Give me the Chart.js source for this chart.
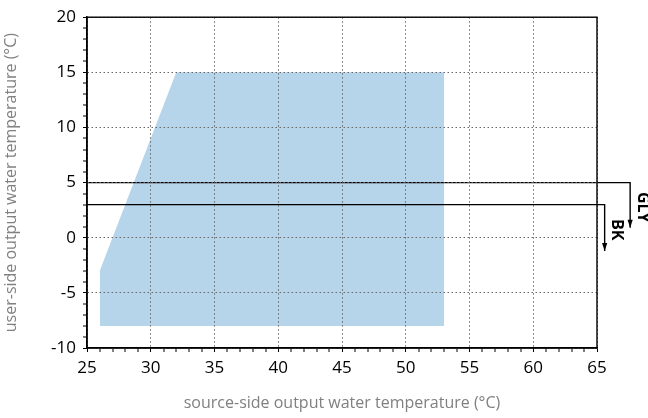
<!DOCTYPE html>
<html>
<head>
<meta charset="utf-8">
<script src="https://cdn.jsdelivr.net/npm/chart.js@4.4.0/dist/chart.umd.min.js"></script>
<style>
  html, body { margin: 0; padding: 0; background: #fff; }
</style>
</head>
<body>
<canvas id="chart" width="648" height="418"></canvas>
<script>
// axis ranges
const xRange = [25, 65];
const yRange = [-10, 20];
const majorStep = 5;

// operating envelope (upper boundary, filled down to the floor)
const envelopeX = [26, 32, 53];
const envelopeY = [-3, 15, 15];
const envelopeFloor = -8;

// limit lines, listed from the arrow tip back to the y axis
const glyX = [67.6, 67.6, 25];
const glyY = [0.9, 5, 5];
const bkX = [65.6, 65.6, 25];
const bkY = [-1.2, 3, 3];
const lineLabels = ["GLY", "BK"];

const toPoints = (xs, ys) => xs.map((x, i) => ({ x, y: ys[i] }));

const boxPlugin = {
  id: "box",
  afterDraw(chart) {
    const { ctx, chartArea: a } = chart;
    ctx.save();
    ctx.strokeStyle = "#000";
    ctx.lineWidth = 1.4;
    ctx.strokeRect(a.left, a.top, a.right - a.left, a.bottom - a.top);
    ctx.restore();
  },
};

const arrowPlugin = {
  id: "arrows",
  afterDatasetsDraw(chart) {
    const ctx = chart.ctx;
    chart.data.datasets.forEach((ds, i) => {
      if (!ds.arrowLabel) return;
      const pts = chart.getDatasetMeta(i).data;
      const tip = pts[0];
      const corner = pts[1];
      ctx.save();
      ctx.fillStyle = "#000";
      ctx.beginPath();
      ctx.moveTo(tip.x, tip.y);
      ctx.lineTo(tip.x - 2.6, tip.y - 8);
      ctx.lineTo(tip.x + 2.6, tip.y - 8);
      ctx.closePath();
      ctx.fill();
      ctx.translate(corner.x + 12, (corner.y + tip.y) / 2 + 2);
      ctx.rotate(Math.PI / 2);
      ctx.font = "bold 16px 'Open Sans'";
      ctx.textAlign = "center";
      ctx.textBaseline = "middle";
      ctx.fillText(ds.arrowLabel, 0, 0);
      ctx.restore();
    });
  },
};

const gridDef = {
  z: 1,
  color: "#666",
  lineWidth: (c) => (c.tick && c.tick.value % majorStep === 0 ? 1 : 0),
  tickWidth: 1,
  tickColor: "#000",
  tickLength: 4,
};

new Chart(document.getElementById("chart"), {
  type: "scatter",
  data: {
    datasets: [
      {
        label: "envelope",
        data: toPoints(envelopeX, envelopeY),
        showLine: true,
        borderWidth: 0,
        pointRadius: 0,
        backgroundColor: "#b7d5ea",
        fill: { value: envelopeFloor },
        order: 2,
      },
      {
        label: lineLabels[0],
        arrowLabel: lineLabels[0],
        data: toPoints(glyX, glyY),
        showLine: true,
        borderColor: "#000",
        borderWidth: 1.4,
        pointRadius: 0,
        clip: false,
        order: 1,
      },
      {
        label: lineLabels[1],
        arrowLabel: lineLabels[1],
        data: toPoints(bkX, bkY),
        showLine: true,
        borderColor: "#000",
        borderWidth: 1.4,
        pointRadius: 0,
        clip: false,
        order: 1,
      },
    ],
  },
  options: {
    responsive: false,
    animation: false,
    layout: { padding: { left: 0, right: 51, top: 17, bottom: 0 } },
    plugins: { legend: { display: false }, tooltip: { enabled: false } },
    scales: {
      x: {
        type: "linear",
        min: xRange[0],
        max: xRange[1],
        afterFit: (s) => { s.height = 70; },
        ticks: {
          stepSize: 1,
          autoSkip: false,
          maxRotation: 0,
          color: "#000",
          padding: 6,
          font: { family: "'Open Sans'", size: 17 },
          callback: (v) => (v % majorStep === 0 ? v : ""),
        },
        grid: gridDef,
        border: { z: 1, color: "#000", width: 1.5, dash: [1.5, 2.5] },
        title: {
          display: true,
          text: "source-side output water temperature (°C)",
          color: "#808080",
          font: { family: "'Open Sans'", size: 16 },
          padding: { top: 0, bottom: 5 },
        },
      },
      y: {
        type: "linear",
        min: yRange[0],
        max: yRange[1],
        afterFit: (s) => { s.width = 87; },
        ticks: {
          stepSize: 1,
          autoSkip: false,
          color: "#000",
          padding: 7,
          font: { family: "'Open Sans'", size: 17 },
          callback: (v) => (v % majorStep === 0 ? v : ""),
        },
        grid: gridDef,
        border: { z: 1, color: "#000", width: 1.5, dash: [1.5, 2.5] },
        title: {
          display: true,
          text: "user-side output water temperature (°C)",
          color: "#808080",
          font: { family: "'Open Sans'", size: 16 },
          padding: { top: 2, bottom: 0 },
        },
      },
    },
  },
  plugins: [boxPlugin, arrowPlugin],
});
</script>
</body>
</html>
